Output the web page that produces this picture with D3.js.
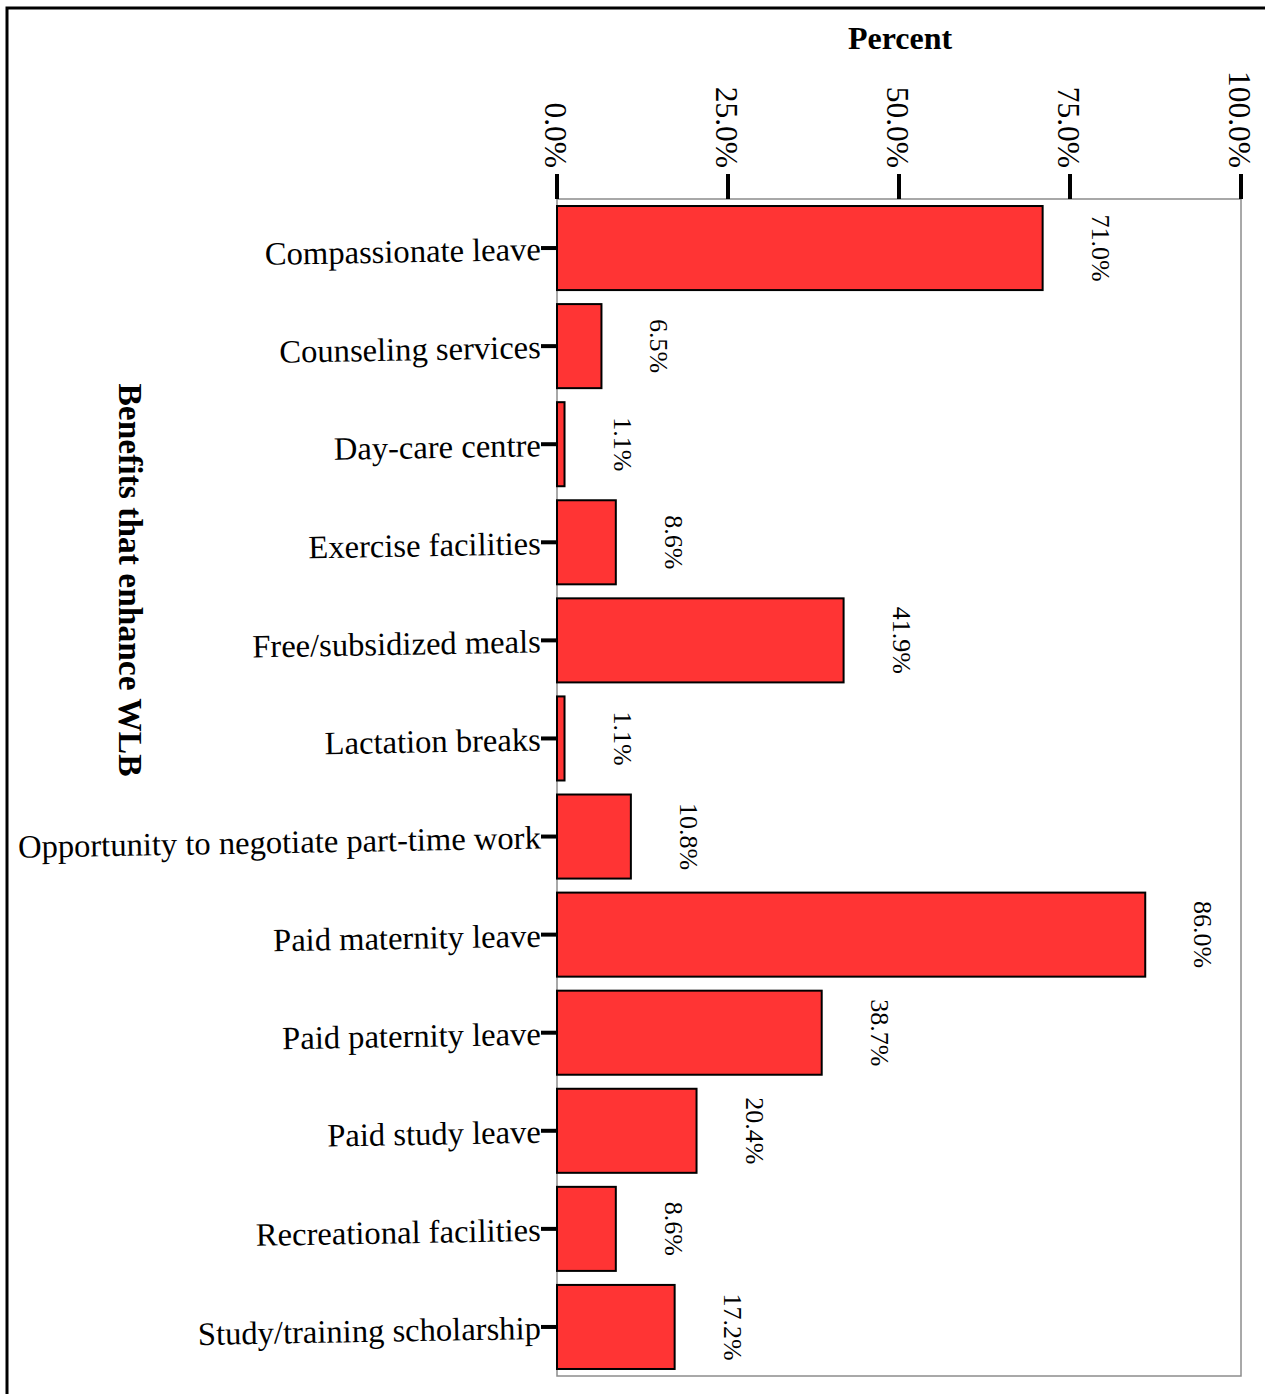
<!DOCTYPE html>
<html lang="en">
<head>
    <meta charset="UTF-8">
    <title>Benefits that enhance WLB</title>
    <script src="https://cdn.jsdelivr.net/npm/d3@7"></script>
    <style>
        body { margin: 0; background: #fff; }
        text { font-family: "Liberation Serif", "Times New Roman", serif; fill: #000; }
        .cat { font-size: 32.6px; }
        .tick-label { font-size: 31.5px; }
        .val { font-size: 26px; }
        .title { font-size: 32px; font-weight: bold; }
        .ytitle { font-size: 33.5px; font-weight: bold; }
    </style>
</head>
<body>
    <svg id="chart" width="1265" height="1394"></svg>
    <script>
        // data
        const categories = ["Compassionate leave", "Counseling services", "Day-care centre", "Exercise facilities",
            "Free/subsidized meals", "Lactation breaks", "Opportunity to negotiate part-time work",
            "Paid maternity leave", "Paid paternity leave", "Paid study leave", "Recreational facilities",
            "Study/training scholarship"]
        const percents = [71.0, 6.5, 1.1, 8.6, 41.9, 1.1, 10.8, 86.0, 38.7, 20.4, 8.6, 17.2]
        const tickValues = [0, 25, 50, 75, 100]

        const svg = d3.select("#chart")
        const plot = { left: 557, right: 1241, top: 199, bottom: 1376 }

        const x = d3.scaleLinear().domain([0, 100]).range([plot.left, plot.right])
        const y = d3.scaleBand().domain(categories).range([plot.top, plot.bottom])
            .paddingInner(0.143).paddingOuter(0.0715)

        // outer frame (right/bottom run off the picture)
        svg.append("rect").attr("x", 7).attr("y", 8).attr("width", 1300).attr("height", 1420)
            .attr("fill", "none").attr("stroke", "#000").attr("stroke-width", 3)

        // plot frame
        svg.append("rect").attr("x", plot.left).attr("y", plot.top)
            .attr("width", plot.right - plot.left).attr("height", plot.bottom - plot.top)
            .attr("fill", "none").attr("stroke", "#8c8c8c").attr("stroke-width", 1.5)

        // bars
        svg.selectAll(".bar").data(percents).enter().append("rect")
            .attr("class", "bar")
            .attr("x", x(0))
            .attr("y", (d, i) => y(categories[i]))
            .attr("width", d => x(d) - x(0))
            .attr("height", y.bandwidth())
            .attr("fill", "#ff3434")
            .attr("stroke", "#000")
            .attr("stroke-width", 2)

        // value labels, rotated
        svg.selectAll(".val").data(percents).enter().append("text")
            .attr("class", "val")
            .attr("text-anchor", "middle")
            .attr("transform", (d, i) => `translate(${x(d) + 49},${y(categories[i]) + y.bandwidth() / 2}) rotate(90)`)
            .text(d => d.toFixed(1) + "%")

        // top axis ticks
        const xAxisG = svg.append("g")
        xAxisG.selectAll("line").data(tickValues).enter().append("line")
            .attr("x1", d => x(d)).attr("x2", d => x(d))
            .attr("y1", 174).attr("y2", plot.top)
            .attr("stroke", "#000").attr("stroke-width", 4)
        xAxisG.selectAll("text").data(tickValues).enter().append("text")
            .attr("class", "tick-label")
            .attr("text-anchor", "end")
            .attr("transform", d => `translate(${x(d) - 12},168) rotate(90)`)
            .text(d => d.toFixed(1) + "%")

        // category ticks and labels
        const yAxisG = svg.append("g")
        yAxisG.selectAll("line").data(categories).enter().append("line")
            .attr("x1", 541).attr("x2", plot.left)
            .attr("y1", d => y(d) + y.bandwidth() / 2).attr("y2", d => y(d) + y.bandwidth() / 2)
            .attr("stroke", "#000").attr("stroke-width", 4)
        yAxisG.selectAll("text").data(categories).enter().append("text")
            .attr("class", "cat")
            .attr("text-anchor", "end")
            .attr("transform", d => `translate(541,${y(d) + y.bandwidth() / 2 + 12}) rotate(-1)`)
            .text(d => d)

        // axis titles
        svg.append("text").attr("class", "title")
            .attr("x", 900).attr("y", 49)
            .attr("text-anchor", "middle")
            .text("Percent")
        svg.append("text").attr("class", "ytitle")
            .attr("text-anchor", "middle")
            .attr("transform", "translate(119,580) rotate(90)")
            .text("Benefits that enhance WLB")
    </script>
</body>
</html>
